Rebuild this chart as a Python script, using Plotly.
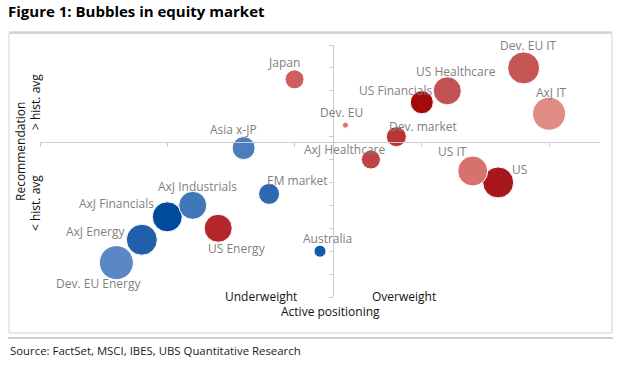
import plotly.graph_objects as go

# ---- data ----
names = ["Japan", "Asia x-JP", "EM market", "AxJ Industrials", "AxJ Financials",
         "AxJ Energy", "Dev. EU Energy", "US Energy", "Australia", "Dev. EU",
         "Dev. market", "AxJ Healthcare", "US Financials", "US Healthcare",
         "Dev. EU IT", "AxJ IT", "US IT", "US"]
active_positioning = [-1, -3, -2, -5, -6, -7, -8, -4, 0, 1, 3, 2, 4, 5, 8, 9, 6, 7]
recommendation = [6, 0, -4, -5, -6, -8, -10, -7, -9, 2, 1, -1, 4, 5, 7, 3, -2, -3]
bubble_size = [19, 23, 21, 28, 30, 31, 34, 28, 12, 6, 20, 19, 23, 28, 32, 33, 30, 31]

# ---- styles ----
bubble_colors = ["#CF5F5F", "#4B7DBF", "#2C69B0", "#3F78B8", "#004A9C",
                 "#2060AA", "#5A88C4", "#B3262A", "#115AAA", "#E07070",
                 "#B93434", "#C04444", "#A50A0A", "#C55252",
                 "#C65656", "#E08C86", "#D6716E", "#A8171C"]
# label offsets in pixels (dx right, dy up)
label_offsets = {
    "Japan": (-11, 17), "Asia x-JP": (-10, 19), "EM market": (28, 13),
    "AxJ Industrials": (5, 19), "AxJ Financials": (-51, 13), "AxJ Energy": (-46, 8),
    "Dev. EU Energy": (-18, -21), "US Energy": (19, -20), "Australia": (7, 13),
    "Dev. EU": (-4, 13), "Dev. market": (27, 10), "AxJ Healthcare": (-26, 10),
    "US Financials": (-26, 12), "US Healthcare": (9, 19), "Dev. EU IT": (5, 22),
    "AxJ IT": (2, 21), "US IT": (-20, 20), "US": (21, 13),
}

# Excel draws larger bubbles first
order = sorted(range(len(names)), key=lambda i: -bubble_size[i])

FONT = "Open Sans"
fig = go.Figure()
fig.add_trace(go.Scatter(
    x=[active_positioning[i] for i in order],
    y=[recommendation[i] for i in order],
    mode="markers",
    marker=dict(size=[bubble_size[i] for i in order], sizemode="diameter",
                color=[bubble_colors[i] for i in order], opacity=1,
                line=dict(color="white", width=1)),
    hoverinfo="text", text=[names[i] for i in order],
    showlegend=False,
))

annotations = []
for n, xv, yv in zip(names, active_positioning, recommendation):
    dx, dy = label_offsets[n]
    annotations.append(dict(x=xv, y=yv, xref="x", yref="y", text=n, showarrow=False,
                            xanchor="center", yanchor="middle",
                            xshift=dx, yshift=dy,
                            font=dict(family=FONT, size=12, color="#7F7F7F")))

# plot area: x 40..600 px, y 45..297 px
def px(xp):
    return (xp - 40) / 560.0

def py(yp):
    return (297 - yp) / 252.0

axis_font = dict(family=FONT, size=12, color="#111111")

def paper_text(x, y, text, angle=0, font=axis_font, xanchor="center"):
    return dict(x=px(x), y=py(y), xref="paper", yref="paper", text=text, textangle=angle,
                showarrow=False, xanchor=xanchor, yanchor="middle", font=font)

annotations += [
    paper_text(261, 296, "Underweight"),
    paper_text(404, 296, "Overweight"),
    paper_text(330, 311, "Active positioning"),
    paper_text(20, 152, "Recommendation", -90),
    paper_text(35, 102, "> hist. avg", -90),
    paper_text(35, 203, "< hist. avg", -90),
    paper_text(8, 350, "Source: FactSet, MSCI, IBES, UBS Quantitative Research",
               font=dict(family=FONT, size=11.4, color="#222222"), xanchor="left"),
]

shapes = [
    dict(type="rect", xref="paper", yref="paper", x0=px(9), x1=px(612), y0=py(333), y1=py(33),
         line=dict(color="#D3D3D3", width=1)),
    dict(type="line", xref="paper", yref="paper", x0=px(9), x1=px(612), y0=py(32.5), y1=py(32.5),
         line=dict(color="#D3D3D3", width=2.5)),
    dict(type="line", xref="paper", yref="paper", x0=px(8), x1=px(613), y0=py(338), y1=py(338),
         line=dict(color="#CFCFCF", width=2)),
]

x_range = [-11, 11]
y_range = [-13, 9]
cross_x = 0.5
cross_y = 0.5

fig.update_layout(
    width=640, height=369,
    margin=dict(l=40, r=40, t=45, b=72),
    paper_bgcolor="white", plot_bgcolor="white",
    title=dict(text="<b>Figure 1: Bubbles in equity market</b>", xref="container", yref="container",
               x=8 / 640, xanchor="left", y=1 - 12 / 369, yanchor="middle",
               font=dict(family=FONT, size=15, color="#000000")),
    xaxis=dict(range=x_range, tick0=-11, dtick=5, showticklabels=False, showgrid=False,
               zeroline=False, showline=True, linecolor="#CCCCCC", linewidth=1,
               ticks="outside", ticklen=4, tickcolor="#CCCCCC",
               anchor="free", position=(cross_y - y_range[0]) / (y_range[1] - y_range[0])),
    yaxis=dict(range=y_range, tick0=-13, dtick=2, showticklabels=False, showgrid=False,
               zeroline=False, showline=True, linecolor="#CCCCCC", linewidth=1,
               ticks="outside", ticklen=4, tickcolor="#CCCCCC",
               anchor="free", position=(cross_x - x_range[0]) / (x_range[1] - x_range[0])),
    annotations=annotations,
    shapes=shapes,
)

fig.write_html("out.html", config={"displayModeBar": False},
               post_script="document.body.style.margin='0';document.body.style.overflow='hidden';")
